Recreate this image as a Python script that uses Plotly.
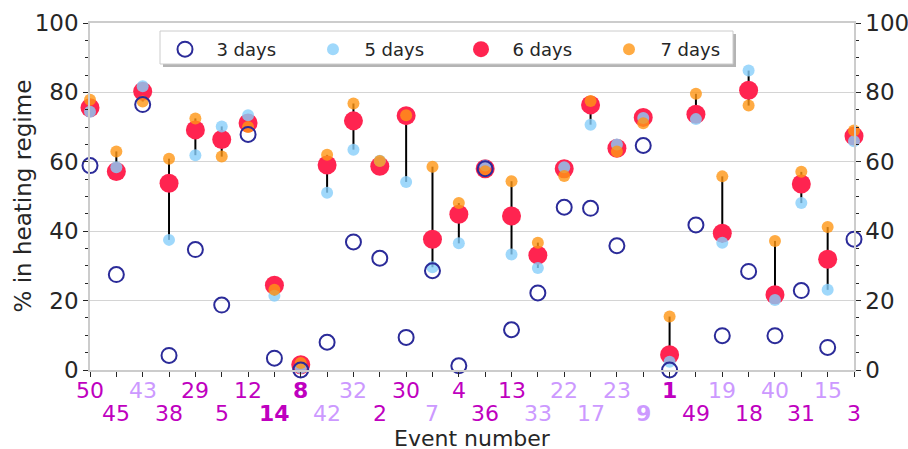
import plotly.graph_objects as go

events = [50, 45, 43, 38, 29, 5, 12, 14, 8, 42, 32, 2, 30, 7, 4, 36, 13, 33, 22, 17,
          23, 9, 1, 49, 19, 18, 40, 31, 15, 3]
light_events = {43, 42, 32, 7, 33, 22, 17, 23, 9, 19, 40, 15}
bold_events = {8, 14, 1, 9}

days3 = [58.9, 27.5, 76.5, 4.2, 34.7, 18.7, 67.9, 3.4, 0.0, 8.0, 36.9, 32.2, 9.4, 28.6, 1.2,
         58.0, 11.6, 22.2, 46.9, 46.6, 35.8, 64.7, 0.0, 41.8, 9.9, 28.4, 9.9, 22.9, 6.5, 37.7]
days5 = [74.4, 58.4, 81.8, 37.5, 61.9, 70.2, 73.4, 21.4, 0.6, 51.1, 63.5, 60.3, 54.2, 29.6, 36.5,
         58.9, 33.3, 29.4, 58.4, 70.7, 65.0, 72.6, 2.4, 72.3, 36.7, 86.3, 20.2, 48.1, 23.1, 65.9]
days6 = [75.6, 57.2, 80.3, 53.8, 69.2, 66.4, 71.2, 24.4, 1.5, 59.1, 71.8, 58.7, 73.3, 37.7, 44.9,
         58.0, 44.4, 33.1, 58.0, 76.4, 63.9, 72.8, 4.4, 73.7, 39.4, 80.6, 21.7, 53.6, 31.9, 67.4]
days7 = [77.9, 63.0, 77.4, 60.9, 72.5, 61.5, 70.0, 23.1, 2.0, 62.0, 76.8, 60.2, 73.4, 58.6, 48.1,
         57.3, 54.4, 36.7, 55.9, 77.5, 63.0, 71.1, 15.4, 79.6, 55.8, 76.2, 37.2, 57.1, 41.2, 69.0]

xs = list(range(len(events)))

FONT = "DejaVu Sans"
TXT = "#262626"
MAG = "#bf00bf"
LIGHT = "#cc99ff"
PAD = "\u00a0\u00a0"

fig = go.Figure()

# vertical connectors between 5-day and 7-day values
lx, ly = [], []
for i in xs:
    lx += [i, i, None]
    ly += [days5[i], days7[i], None]
fig.add_trace(go.Scatter(x=lx, y=ly, mode="lines", line=dict(color="black", width=2),
                         showlegend=False, hoverinfo="skip", cliponaxis=False))

fig.add_trace(go.Scatter(x=xs, y=days6, mode="markers", name=PAD + "6 days", legendrank=3,
                         marker=dict(size=19, color="#ff2450"), cliponaxis=False))
fig.add_trace(go.Scatter(x=xs, y=days5, mode="markers", name=PAD + "5 days", legendrank=2,
                         marker=dict(size=12, color="rgba(135,206,250,0.8)"), cliponaxis=False))
fig.add_trace(go.Scatter(x=xs, y=days7, mode="markers", name=PAD + "7 days", legendrank=4,
                         marker=dict(size=12, color="rgba(255,150,20,0.8)"), cliponaxis=False))
fig.add_trace(go.Scatter(x=xs, y=days3, mode="markers", name=PAD + "3 days", legendrank=1,
                         marker=dict(size=15, color="rgba(0,0,0,0)", symbol="circle",
                                     line=dict(color="#2b2b99", width=2)), cliponaxis=False))
# invisible trace to activate right axis
fig.add_trace(go.Scatter(x=[0], y=[0], yaxis="y2", mode="markers",
                         marker=dict(opacity=0), showlegend=False, hoverinfo="skip"))

annotations = []
for i, ev in enumerate(events):
    col = LIGHT if ev in light_events else MAG
    txt = f"<b>{ev}</b>" if ev in bold_events else str(ev)
    annotations.append(dict(x=i, xref="x", y=0, yref="paper", yanchor="middle",
                            yshift=-20 if i % 2 == 0 else -43, text=txt, showarrow=False,
                            font=dict(family=FONT, size=22, color=col)))
annotations.append(dict(x=0.5, xref="paper", y=0, yref="paper", yanchor="middle", yshift=-68,
                        text="Event number", showarrow=False,
                        font=dict(family=FONT, size=22, color=TXT)))
annotations.append(dict(x=0, xref="paper", y=0.5, yref="paper", xanchor="center",
                        yanchor="middle", xshift=-68, textangle=-90,
                        text="% in heating regime", showarrow=False,
                        font=dict(family=FONT, size=23, color=TXT)))

yax_common = dict(range=[0, 100], tickvals=[0, 20, 40, 60, 80, 100], ticks="outside",
                  ticklen=5, tickcolor=TXT, tickwidth=1.2,
                  tickfont=dict(family=FONT, size=23, color=TXT),
                  minor=dict(dtick=5, ticks="outside", ticklen=3, tickcolor=TXT, showgrid=False),
                  zeroline=False, fixedrange=True, automargin=False)

# legend frame (pixel -> paper conversion on a 764 x 347 plot area at (90, 23))
PW, PH, L0, T0 = 764.0, 347.0, 90.0, 23.0
def px(x):
    return (x - L0) / PW
def py(y):
    return (T0 + PH - y) / PH

fig.update_layout(
    width=908, height=449,
    margin=dict(l=90, r=54, t=23, b=79, autoexpand=False),
    plot_bgcolor="white", paper_bgcolor="white",
    font=dict(family=FONT, color=TXT),
    xaxis=dict(range=[0, 29], tickvals=xs, showticklabels=False, ticks="outside", ticklen=5,
               tickcolor=TXT, showgrid=False, zeroline=False, showline=True,
               linecolor="#cccccc", linewidth=1.5, mirror=True, automargin=False,
               fixedrange=True),
    yaxis=dict(**yax_common, showgrid=True, gridcolor="#d4d4d4", gridwidth=1.2,
               showline=True, linecolor="#cccccc", linewidth=1.5),
    yaxis2=dict(**yax_common, overlaying="y", side="right", showgrid=False,
                showline=True, linecolor="#cccccc", linewidth=1.5),
    legend=dict(orientation="h", x=px(165), y=py(31), xanchor="left", yanchor="top",
                bgcolor="rgba(0,0,0,0)", borderwidth=0,
                font=dict(family=FONT, size=18, color=TXT), entrywidth=103,
                itemsizing="trace"),
    annotations=annotations,
    shapes=[
        dict(type="rect", xref="paper", yref="paper", x0=px(163), x1=px(736),
             y0=py(67), y1=py(34), fillcolor="#b4b4b4", line=dict(width=0), layer="above"),
        dict(type="rect", xref="paper", yref="paper", x0=px(160), x1=px(733),
             y0=py(64), y1=py(31), fillcolor="white", line=dict(width=1, color="#cccccc"),
             layer="above"),
    ],
    showlegend=True,
)

fig.write_html("out.html", config={"displayModeBar": False},
               post_script="document.body.style.margin='0';")
